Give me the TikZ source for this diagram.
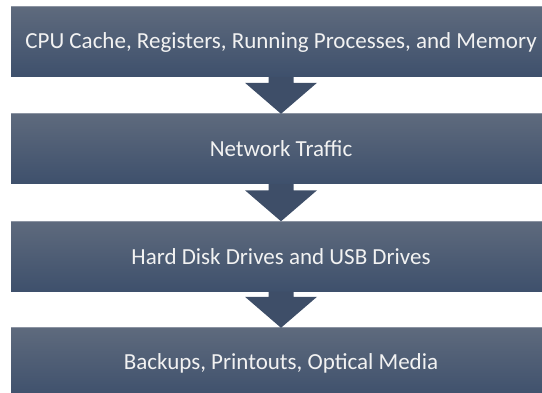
\documentclass[tikz,border=0pt]{standalone}
\usepackage{fontspec}
\setmainfont{Carlito}
\usetikzlibrary{calc}
\definecolor{boxtop}{RGB}{94,106,125}
\definecolor{boxbot}{RGB}{62,80,108}
\definecolor{boxedge}{RGB}{140,148,162}
\definecolor{arrowc}{RGB}{62,78,104}
\definecolor{txt}{RGB}{242,242,242}
\tikzset{
  stagebox/.style={rectangle, minimum width=540pt, minimum height=70pt, inner sep=0pt,
    top color=boxtop, bottom color=boxbot, draw=none, text=txt,
    font=\fontsize{23}{27}\selectfont},
  flowarrow/.style={fill=arrowc, draw=none}
}
\newcommand{\flowarr}[2]{%
  \fill[flowarrow] ($(#1.south)+(-12.5pt,0)$) -- ($(#2.north)+(-12.5pt,31pt)$) --
    ($(#2.north)+(-36pt,31pt)$) -- (#2.north) -- ($(#2.north)+(36pt,31pt)$) --
    ($(#2.north)+(12.5pt,31pt)$) -- ($(#1.south)+(12.5pt,0)$) -- cycle;}
\begin{document}
\begin{tikzpicture}[x=1pt,y=-1pt]
\useasboundingbox (0,0) rectangle (542,393);
\node[stagebox] (b1) at (281,42) {CPU Cache, Registers, Running Processes, and Memory};
\node[stagebox] (b2) at (281,149) {Network Traffic};
\node[stagebox] (b3) at (281,256.5) {Hard Disk Drives and USB Drives};
\node[stagebox] (b4) at (281,363) {Backups, Printouts, Optical Media};
\foreach \b in {b1,b2,b3,b4}{\draw[boxedge, line width=0.8pt] (\b.north west) -- (\b.north east);}
\flowarr{b1}{b2}
\flowarr{b2}{b3}
\flowarr{b3}{b4}
\end{tikzpicture}
\end{document}
